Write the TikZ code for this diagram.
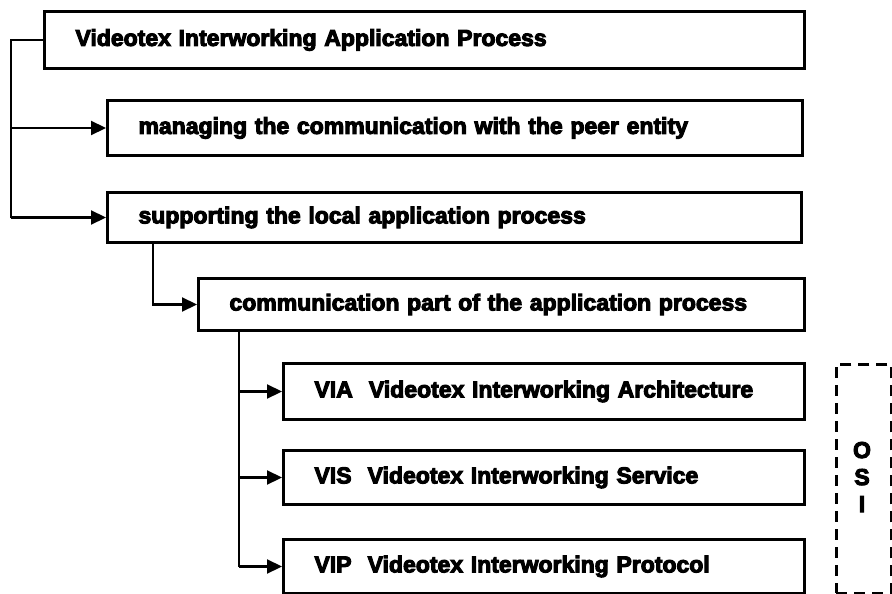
\documentclass[tikz,border=0pt]{standalone}
\usepackage{fontspec}
\setmainfont{Liberation Sans}[BoldFeatures={FakeBold=4.5}]
\usetikzlibrary{arrows.meta}
\begin{document}
\begin{tikzpicture}[x=1pt,y=-1pt,
  box/.style={draw, line width=3pt, inner xsep=31pt, inner ysep=0pt,
    align=left, anchor=north west, font=\fontsize{23}{26}\selectfont\bfseries},
  link/.style={line width=2.2pt, -{Triangle[length=15pt,width=14pt]}},
  trunk/.style={line width=2.2pt},
  osi/.style={draw, line width=2.6pt, dash pattern=on 11pt off 7pt}]
\useasboundingbox (0,0) rectangle (892,594);

% process hierarchy
\node[box, text width=698pt, minimum height=57pt] (vap) at (43,10)
  {Videotex Interworking Application Process};
\node[box, text width=633pt, minimum height=55pt] (peer) at (106,99)
  {managing the communication with the peer entity};
\node[box, text width=632pt, minimum height=50pt] (local) at (106,191)
  {supporting the local application process};
\node[box, text width=544pt, minimum height=52pt] (comm) at (197,277)
  {communication part of the application process};
\node[box, text width=459pt, minimum height=56pt] (via) at (282,362)
  {VIA\hspace{0.7em}Videotex Interworking Architecture};
\node[box, text width=459pt, minimum height=54pt] (vis) at (282,449)
  {VIS\hspace{0.7em}Videotex Interworking Service};
\node[box, text width=459pt, minimum height=54pt] (vip) at (282,538)
  {VIP\hspace{0.7em}Videotex Interworking Protocol};

% OSI bracket
\node[osi, minimum width=55pt, minimum height=229pt, anchor=north west, inner sep=0pt] (osibox) at (835,363) {};
\node[font=\fontsize{23}{27}\selectfont\bfseries, align=center] (osi) at (862,477) {O\\S\\I};

% trunk coordinates
\coordinate (t1) at (11,0);
\coordinate (t2) at (153,0);
\coordinate (t3) at (239,0);

% connectors
\draw[trunk] (vap.west) -- (t1 |- vap.west) -- (t1 |- local.west);
\draw[link] (t1 |- peer.west) -- (peer.west);
\draw[link] (t1 |- local.west) -- (local.west);

\draw[link] (t2 |- local.south) -- (t2 |- comm.west) -- (comm.west);

\draw[trunk] (t3 |- comm.south) -- (t3 |- vip.west);
\draw[link] (t3 |- via.west) -- (via.west);
\draw[link] (t3 |- vis.west) -- (vis.west);
\draw[link] (t3 |- vip.west) -- (vip.west);
\end{tikzpicture}
\end{document}
